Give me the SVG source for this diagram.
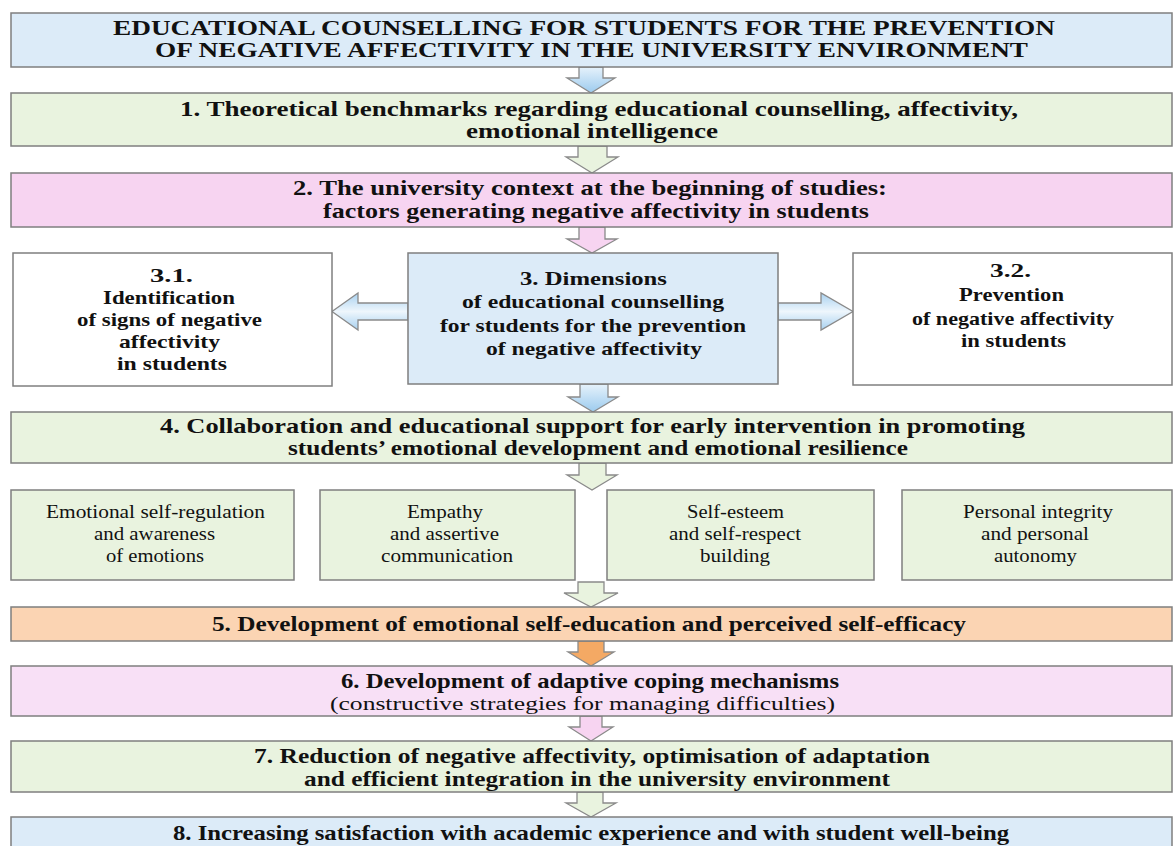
<svg xmlns="http://www.w3.org/2000/svg" width="1173" height="846" viewBox="0 0 1173 846">
<defs>
<linearGradient id="gBlueV" x1="0" y1="0" x2="0" y2="1">
<stop offset="0" stop-color="#e6f2fb"/><stop offset="1" stop-color="#9ccbee"/>
</linearGradient>
<linearGradient id="gBlueH" x1="0" y1="0" x2="0" y2="1">
<stop offset="0" stop-color="#a8d1f0"/><stop offset="0.5" stop-color="#eef6fc"/><stop offset="1" stop-color="#a8d1f0"/>
</linearGradient>
<style>
.box{stroke:#7f7f7f;stroke-width:1.5}
.blue{fill:#dcebf8}
.green{fill:#e9f3df}
.pink{fill:#f7d4f1}
.pink2{fill:#f8e0f6}
.white{fill:#ffffff}
.orange{fill:#fbd4b3}
.arr{stroke:#8a8a8a;stroke-width:1.3;stroke-linejoin:miter}
text{font-family:'Liberation Serif','Times New Roman',serif;fill:#111}
.t{font-weight:bold;font-size:21.5px}
.tt{font-weight:bold;font-size:20px}
.t3{font-weight:bold;font-size:19.5px}
.r{font-size:18.5px}
.r6{font-size:19px}
</style>
</defs>
<rect width="1173" height="846" fill="#ffffff"/>

<g id="connectors">
<path class="arr" fill="url(#gBlueV)" d="M579,67 L603,67 L603,78 L615,78 L591,93 L567,78 L579,78 Z"/>
<path class="arr" fill="#e9f3df" d="M578,146 L607,146 L607,157 L618,157 L592,173 L566,157 L578,157 Z"/>
<path class="arr" fill="#f7d4f1" d="M579,227 L605,227 L605,239 L617,239 L592,253 L567,239 L579,239 Z"/>
<path class="arr" fill="url(#gBlueH)" d="M408,303 L358,303 L358,293 L332,311.5 L358,330 L358,320 L408,320 Z"/>
<path class="arr" fill="url(#gBlueH)" d="M778,303 L821,303 L821,293 L853,311.5 L821,330 L821,320 L778,320 Z"/>
<path class="arr" fill="url(#gBlueV)" d="M580,384 L608,384 L608,397 L618,397 L593,412 L568,397 L580,397 Z"/>
<path class="arr" fill="#e9f3df" d="M579,463 L606,463 L606,475 L617,475 L592,490 L567,475 L579,475 Z"/>
<path class="arr" fill="#e9f3df" d="M578,582 L604,582 L604,593 L618,593 L591,607 L564,593 L578,593 Z"/>
<path class="arr" fill="#f4a964" d="M578,641 L604,641 L604,652 L614,652 L591,666 L568,652 L578,652 Z"/>
<path class="arr" fill="#f7d4f1" d="M580,716 L602,716 L602,727 L613,727 L591,741 L569,727 L580,727 Z"/>
<path class="arr" fill="#e9f3df" d="M577,792 L603,792 L603,803 L616,803 L591,817 L566,803 L577,803 Z"/>
</g>

<g id="title">
<rect class="box blue" x="11" y="13" width="1161" height="54"/>
<text class="tt" x="113" y="35" textLength="942" lengthAdjust="spacingAndGlyphs">EDUCATIONAL COUNSELLING FOR STUDENTS FOR THE PREVENTION</text>
<text class="tt" x="155" y="57" textLength="873" lengthAdjust="spacingAndGlyphs">OF NEGATIVE AFFECTIVITY IN THE UNIVERSITY ENVIRONMENT</text>
</g>

<g id="n1">
<rect class="box green" x="11" y="93" width="1161" height="53"/>
<text class="t" x="180" y="116" textLength="838" lengthAdjust="spacingAndGlyphs">1. Theoretical benchmarks regarding educational counselling, affectivity,</text>
<text class="t" x="466" y="138" textLength="252" lengthAdjust="spacingAndGlyphs">emotional intelligence</text>
</g>

<g id="n2">
<rect class="box pink" x="11" y="173" width="1161" height="54"/>
<text class="t" x="293" y="195" textLength="594" lengthAdjust="spacingAndGlyphs">2. The university context at the beginning of studies:</text>
<text class="t" x="323" y="218" textLength="546" lengthAdjust="spacingAndGlyphs">factors generating negative affectivity in students</text>
</g>

<g id="n3_1">
<rect class="box white" x="13" y="253" width="319" height="133"/>
<text class="t3" x="150" y="282" textLength="43" lengthAdjust="spacingAndGlyphs">3.1.</text>
<text class="t3" x="103" y="304" textLength="132" lengthAdjust="spacingAndGlyphs">Identification</text>
<text class="t3" x="77" y="326" textLength="185" lengthAdjust="spacingAndGlyphs">of signs of negative</text>
<text class="t3" x="119" y="348" textLength="101" lengthAdjust="spacingAndGlyphs">affectivity</text>
<text class="t3" x="117" y="370" textLength="110" lengthAdjust="spacingAndGlyphs">in students</text>
</g>

<g id="n3">
<rect class="box blue" x="408" y="253" width="370" height="131"/>
<text class="t3" x="520" y="285" textLength="147" lengthAdjust="spacingAndGlyphs">3. Dimensions</text>
<text class="t3" x="462" y="308" textLength="262" lengthAdjust="spacingAndGlyphs">of educational counselling</text>
<text class="t3" x="440" y="332" textLength="306" lengthAdjust="spacingAndGlyphs">for students for the prevention</text>
<text class="t3" x="486" y="355" textLength="216" lengthAdjust="spacingAndGlyphs">of negative affectivity</text>
</g>

<g id="n3_2">
<rect class="box white" x="853" y="253" width="319" height="132"/>
<text class="t3" x="990" y="277" textLength="41" lengthAdjust="spacingAndGlyphs">3.2.</text>
<text class="t3" x="959" y="301" textLength="105" lengthAdjust="spacingAndGlyphs">Prevention</text>
<text class="t3" x="912" y="325" textLength="202" lengthAdjust="spacingAndGlyphs">of negative affectivity</text>
<text class="t3" x="961" y="347" textLength="105" lengthAdjust="spacingAndGlyphs">in students</text>
</g>

<g id="n4">
<rect class="box green" x="11" y="412" width="1161" height="51"/>
<text class="t" x="160" y="433" textLength="865" lengthAdjust="spacingAndGlyphs">4. Collaboration and educational support for early intervention in promoting</text>
<text class="t" x="288" y="455" textLength="620" lengthAdjust="spacingAndGlyphs">students’ emotional development and emotional resilience</text>
</g>

<g id="s1">
<rect class="box green" x="11" y="490" width="283" height="90"/>
<text class="r" x="46" y="518" textLength="219" lengthAdjust="spacingAndGlyphs">Emotional self-regulation</text>
<text class="r" x="94" y="540" textLength="121" lengthAdjust="spacingAndGlyphs">and awareness</text>
<text class="r" x="106" y="562" textLength="98" lengthAdjust="spacingAndGlyphs">of emotions</text>
</g>

<g id="s2">
<rect class="box green" x="320" y="490" width="255" height="90"/>
<text class="r" x="407" y="518" textLength="76" lengthAdjust="spacingAndGlyphs">Empathy</text>
<text class="r" x="390" y="540" textLength="109" lengthAdjust="spacingAndGlyphs">and assertive</text>
<text class="r" x="381" y="562" textLength="132" lengthAdjust="spacingAndGlyphs">communication</text>
</g>

<g id="s3">
<rect class="box green" x="607" y="490" width="267" height="90"/>
<text class="r" x="687" y="518" textLength="97" lengthAdjust="spacingAndGlyphs">Self-esteem</text>
<text class="r" x="669" y="540" textLength="132" lengthAdjust="spacingAndGlyphs">and self-respect</text>
<text class="r" x="700" y="562" textLength="70" lengthAdjust="spacingAndGlyphs">building</text>
</g>

<g id="s4">
<rect class="box green" x="902" y="490" width="270" height="90"/>
<text class="r" x="963" y="518" textLength="150" lengthAdjust="spacingAndGlyphs">Personal integrity</text>
<text class="r" x="981" y="540" textLength="108" lengthAdjust="spacingAndGlyphs">and personal</text>
<text class="r" x="994" y="562" textLength="83" lengthAdjust="spacingAndGlyphs">autonomy</text>
</g>

<g id="n5">
<rect class="box orange" x="11" y="607" width="1161" height="34"/>
<text class="t" x="212" y="631" textLength="754" lengthAdjust="spacingAndGlyphs">5. Development of emotional self-education and perceived self-efficacy</text>
</g>

<g id="n6">
<rect class="box pink2" x="11" y="666" width="1161" height="50"/>
<text class="t" x="341" y="688" textLength="498" lengthAdjust="spacingAndGlyphs">6. Development of adaptive coping mechanisms</text>
<text class="r6" x="330" y="710" textLength="505" lengthAdjust="spacingAndGlyphs">(constructive strategies for managing difficulties)</text>
</g>

<g id="n7">
<rect class="box green" x="11" y="741" width="1161" height="51"/>
<text class="t" x="254" y="763" textLength="676" lengthAdjust="spacingAndGlyphs">7. Reduction of negative affectivity, optimisation of adaptation</text>
<text class="t" x="304" y="786" textLength="586" lengthAdjust="spacingAndGlyphs">and efficient integration in the university environment</text>
</g>

<g id="n8">
<rect class="box blue" x="11" y="817" width="1161" height="45"/>
<text class="t" x="173" y="840" textLength="836" lengthAdjust="spacingAndGlyphs">8. Increasing satisfaction with academic experience and with student well-being</text>
</g>
</svg>
